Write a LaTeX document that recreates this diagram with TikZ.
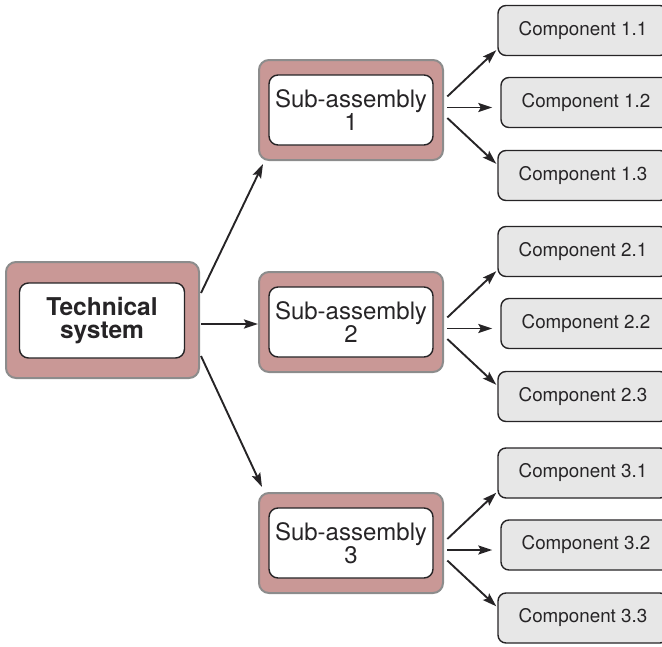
\documentclass[tikz,border=0pt]{standalone}
\usepackage{fontspec}
\setmainfont{TeX Gyre Heros}
\usetikzlibrary{arrows.meta}
\definecolor{subpink}{RGB}{201,152,150}
\definecolor{compgray}{RGB}{231,231,231}
\definecolor{rimgray}{RGB}{140,140,140}
\definecolor{inkgray}{RGB}{38,36,38}

\begin{document}
\begin{tikzpicture}[x=1pt, y=-1pt,
			every node/.style = {inner sep=0pt, align=center, text=inkgray},
			outerbox/.style = {draw=rimgray, line width=2pt, fill=subpink, rounded corners=10pt,
				minimum width=184pt, minimum height=100pt},
			innerbox/.style = {draw=inkgray, line width=1.4pt, fill=white, rounded corners=9pt,
				minimum width=164pt, minimum height=70pt, font=\fontsize{24}{22}\selectfont},
			compbox/.style = {draw=inkgray, line width=1.4pt, fill=compgray, rounded corners=8pt,
				minimum width=170pt, minimum height=50pt, font=\fontsize{18.8}{22}\selectfont},
			arr/.style = {draw=inkgray, line width=1.9pt, -{Stealth[length=14pt,width=9pt,inset=2.5pt]}}]

			\useasboundingbox (0,0) rectangle (662,646);
			\clip (0,0) rectangle (662,646);

			% whole system
			\node[outerbox, minimum width=193pt, minimum height=116pt] (system) at (102.5,320) {};
			\node[innerbox, minimum width=165pt, minimum height=75pt,
				font=\bfseries\fontsize{24.5}{23.5}\selectfont] (system-in) at (102,320.5) {Technical\\system};

			% sub-assemblies
			\foreach \i/\y in {1/110,2/322,3/543}{
				\node[outerbox] (sub\i) at (351,\y) {};
				\node[innerbox] (sub\i-in) at (351,\y) {Sub-assembly\\\i};
			}

			% components
			\foreach \i/\y in {1/102.5,2/323.5,3/545}{
				\node[compbox] (c\i1) at (583,\y-72) {Component \i.1};
				\node[compbox] (c\i2) at (586,\y) {Component \i.2};
				\node[compbox] (c\i3) at (583,\y+73) {Component \i.3};
			}

			\draw[arr] ([xshift=1pt,yshift=27pt]system.east) -- ([xshift=5pt,yshift=-3pt]sub1.south west);
			\draw[arr, line width=2.4pt] ([xshift=1pt,yshift=-4pt]system.east) -- ([yshift=-2pt]sub2.west);
			\draw[arr] ([xshift=1pt,yshift=-36pt]system.east) -- ([xshift=4pt,yshift=5pt]sub3.north west);

			\foreach \i in {1,2,3}{
				\draw[arr] ([xshift=-53pt,yshift=6pt]c\i2.west) -- ([xshift=-1pt,yshift=6pt]c\i1.south west);
				\draw[arr] ([xshift=-53pt,yshift=-5pt]c\i2.west) -- ([xshift=-8pt,yshift=-5pt]c\i2.west);
				\draw[arr] ([xshift=-53pt,yshift=-15.5pt]c\i2.west) -- ([xshift=-1pt,yshift=-14pt]c\i3.north west);
			}
\end{tikzpicture}
\end{document}
